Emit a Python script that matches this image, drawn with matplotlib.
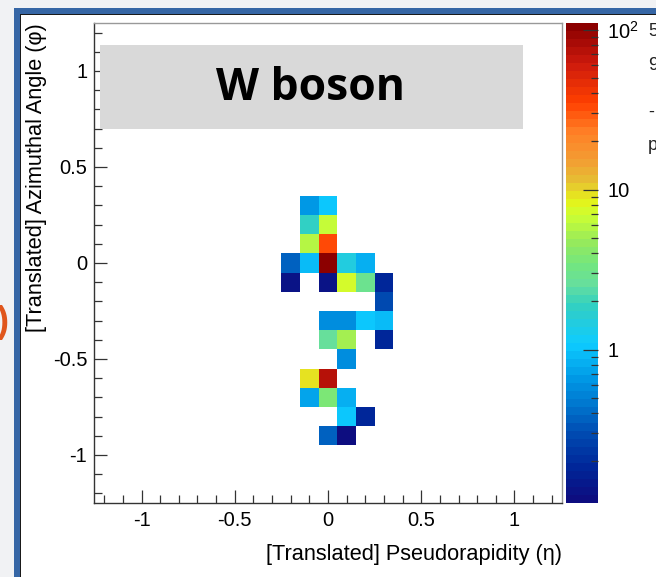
import numpy as np
import matplotlib
matplotlib.use("Agg")
import matplotlib.pyplot as plt
from matplotlib.colors import LinearSegmentedColormap, LogNorm
from matplotlib.patches import Rectangle
from matplotlib.ticker import FixedLocator, FixedFormatter, NullFormatter

# ---------------- data ----------------
eta = [-0.1, 0.0,
       -0.1, 0.0,
       -0.1, 0.0,
       -0.2, -0.1, 0.0, 0.1, 0.2,
       -0.2, 0.0, 0.1, 0.2, 0.3,
       0.3,
       0.0, 0.1, 0.2, 0.3,
       0.0, 0.1, 0.3,
       0.1,
       -0.1, 0.0,
       -0.1, 0.0, 0.1,
       0.1, 0.2,
       0.0, 0.1]
phi = [0.3, 0.3,
       0.2, 0.2,
       0.1, 0.1,
       0.0, 0.0, 0.0, 0.0, 0.0,
       -0.1, -0.1, -0.1, -0.1, -0.1,
       -0.2,
       -0.3, -0.3, -0.3, -0.3,
       -0.4, -0.4, -0.4,
       -0.5,
       -0.6, -0.6,
       -0.7, -0.7, -0.7,
       -0.8, -0.8,
       -0.9, -0.9]
energy = [0.64, 1.05,
          1.75, 6.9,
          5.6, 34.0,
          0.38, 0.94, 100.0, 1.5, 0.84,
          0.13, 0.13, 7.7, 3.0, 0.18,
          0.29,
          0.58, 0.58, 1.05, 0.94,
          2.6, 5.2, 0.18,
          0.58,
          9.8, 75.0,
          0.71, 3.5, 0.84,
          1.05, 0.18,
          0.38, 0.12]

x_range = (-1.255, 1.255)
y_range = (-1.25, 1.25)
bin_edges = np.arange(-1.25, 1.2501, 0.1)
z_range = (0.11, 110)
cbar_ticks = [1, 10, 100]
cbar_labels = ["1", "10", r"$\mathregular{10^{2}}$"]
x_ticks = [-1, -0.5, 0, 0.5, 1]
x_ticklabels = ["-1", "-0.5", "0", "0.5", "1"]
y_ticks = [-1, -0.5, 0, 0.5, 1]
y_ticklabels = ["-1", "-0.5", "0", "0.5", "1"]
minor_ticks = np.round(np.arange(-1.2, 1.21, 0.1), 2)

# ------------- palette (ROOT-like) -------------
pal = [(0.000, (0.05, 0.05, 0.50)),
       (0.069, (0.00, 0.15, 0.60)),
       (0.142, (0.00, 0.30, 0.70)),
       (0.194, (0.00, 0.45, 0.80)),
       (0.256, (0.00, 0.60, 0.90)),
       (0.329, (0.05, 0.80, 1.00)),
       (0.381, (0.15, 0.80, 0.85)),
       (0.412, (0.20, 0.82, 0.75)),
       (0.454, (0.40, 0.87, 0.62)),
       (0.496, (0.45, 0.90, 0.50)),
       (0.548, (0.60, 0.92, 0.35)),
       (0.600, (0.80, 1.00, 0.20)),
       (0.631, (0.90, 0.95, 0.10)),
       (0.673, (0.90, 0.75, 0.20)),
       (0.715, (0.95, 0.62, 0.20)),
       (0.777, (1.00, 0.50, 0.15)),
       (0.840, (1.00, 0.25, 0.00)),
       (0.923, (0.80, 0.10, 0.05)),
       (1.000, (0.55, 0.00, 0.00))]
cmap = LinearSegmentedColormap.from_list("rootpal", pal, N=60)

plt.rcParams['font.family'] = ['Liberation Sans', 'DejaVu Sans']

W, H = 656, 577
fig = plt.figure(figsize=(W / 100, H / 100), dpi=100)
fig.patch.set_facecolor('#f1f2f4')

def px_rect(x0, y0, x1, y1, z, **kw):
    # pixel coords with origin at top-left
    r = Rectangle((x0 / W, 1 - y1 / H), (x1 - x0) / W, (y1 - y0) / H,
                  transform=fig.transFigure, figure=fig, zorder=z, **kw)
    fig.patches.append(r)
    return r

px_rect(14, 8, W + 5, H + 5, -10, facecolor='#3666a5', edgecolor='none')
px_rect(20, 14, W + 5, H + 5, -9, facecolor='#1a1a1a', edgecolor='none')
px_rect(21, 15, W + 5, H + 5, -8, facecolor='white', edgecolor='none')

# slide fragments (clipped in the reference as well)
fig.text(-3 / W, 1 - 322 / H, ")", color='#e0561c', fontsize=26, va='center', ha='left',
         fontweight='bold', zorder=-5)
for ytxt, s in [(31, "5"), (66, "9"), (112, "-"), (146, "p")]:
    fig.text(648 / W, 1 - ytxt / H, s, fontsize=13, va='center', ha='left', color='#222222')

ax_l, ax_r, ax_t, ax_b = 94, 562, 23, 503
ax = fig.add_axes([ax_l / W, 1 - ax_b / H, (ax_r - ax_l) / W, (ax_b - ax_t) / H])
ax.set_facecolor('white')
ax.set_zorder(1)

Hh, xe, ye = np.histogram2d(eta, phi, bins=[bin_edges, bin_edges], weights=energy)
Hm = np.ma.masked_where(Hh <= 0, Hh)
norm = LogNorm(vmin=z_range[0], vmax=z_range[1])
mesh = ax.pcolormesh(xe, ye, Hm.T, cmap=cmap, norm=norm, shading='flat')

ax.set_xlim(*x_range)
ax.set_ylim(*y_range)
ax.set_xticks(x_ticks)
ax.set_xticklabels(x_ticklabels)
ax.set_yticks(y_ticks)
ax.set_yticklabels(y_ticklabels)
ax.xaxis.set_minor_locator(FixedLocator(minor_ticks))
ax.yaxis.set_minor_locator(FixedLocator(minor_ticks))
ax.tick_params(which='both', direction='in', top=False, right=False, color='#333333',
               width=0.9)
ax.tick_params(which='major', length=9.5, labelsize=14.5)
ax.tick_params(axis='x', which='major', pad=5.5)
ax.tick_params(axis='y', which='major', pad=4.8)
ax.tick_params(which='minor', length=5.5)
for side in ['left', 'bottom']:
    ax.spines[side].set_color('#333333')
    ax.spines[side].set_linewidth(1.0)
for side in ['top', 'right']:
    ax.spines[side].set_color('#999999')
    ax.spines[side].set_linewidth(1.0)

ax.set_xlabel("[Translated] Pseudorapidity (η)", fontsize=15.7, loc='right')
ax.xaxis.set_label_coords(1.0, -0.086)
ax.set_ylabel("[Translated] Azimuthal Angle (φ)", fontsize=15.7, loc='top')
ax.yaxis.set_label_coords(-0.1, 1.0)

# colorbar
cax = fig.add_axes([566 / W, 1 - ax_b / H, 32 / W, (ax_b - ax_t) / H])
cax.set_zorder(1)
cb = fig.colorbar(mesh, cax=cax)
cb.outline.set_visible(False)
cax.yaxis.set_major_locator(FixedLocator(cbar_ticks))
cax.yaxis.set_major_formatter(FixedFormatter(cbar_labels))
cminor = [m * 10.0 ** e for e in (-1, 0, 1, 2) for m in range(2, 10)]
cminor = [v for v in cminor if z_range[0] <= v <= z_range[1]]
cax.yaxis.set_minor_locator(FixedLocator(cminor))
cax.yaxis.set_minor_formatter(NullFormatter())
cax.tick_params(which='both', direction='in', color='#333333', width=0.9)
cax.tick_params(which='major', length=10.5, labelsize=14.5, pad=6.5)
cax.tick_params(which='minor', length=5)

# title box
px_rect(100, 45, 523, 129, 5, facecolor='#d9d9d9', edgecolor='none')
fig.text(311 / W, 1 - 88 / H, "W boson", fontsize=32, fontweight='bold',
         family=['Open Sans', 'DejaVu Sans'], ha='center', va='center', zorder=6)

fig.savefig("out.png", dpi=100, facecolor=fig.get_facecolor())
